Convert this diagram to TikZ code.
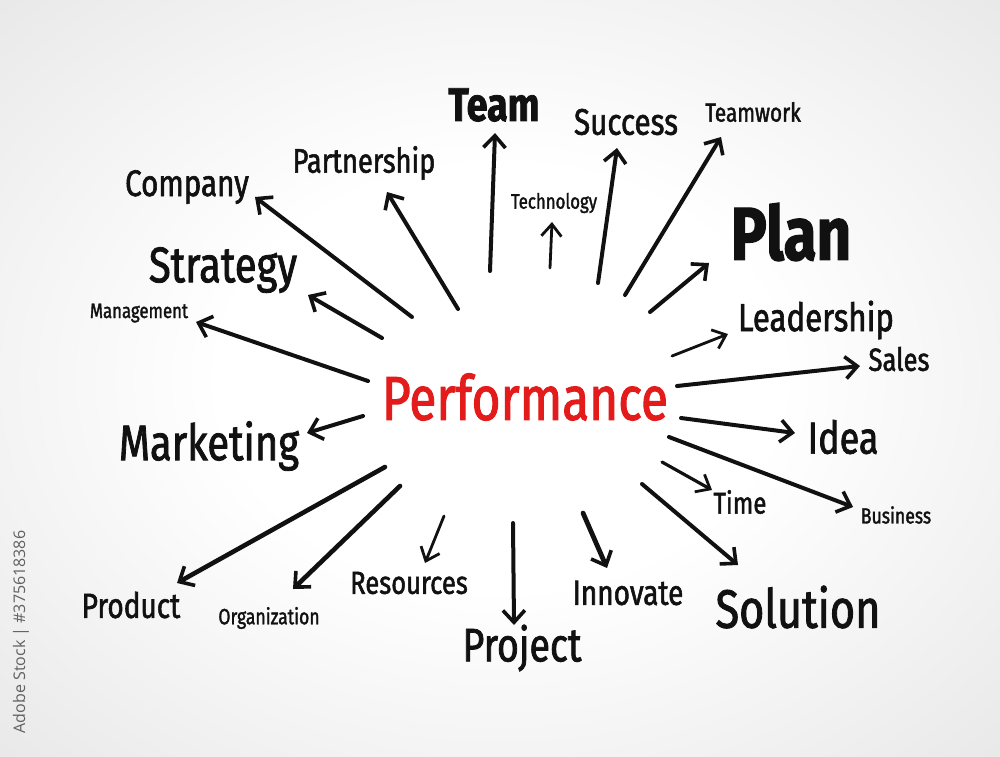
\documentclass[tikz,border=0pt]{standalone}
\usepackage{fontspec}
\setmainfont{Fira Sans}
\newfontfamily\hand[FakeStretch=0.8, FakeBold=1.6]{Fira Sans}
\newfontfamily\wmfont{Open Sans}
\usetikzlibrary{arrows.meta}
\newcommand\fs[1]{\fontsize{#1}{#1}\selectfont}
\definecolor{ink}{HTML}{111111}
\definecolor{perfred}{HTML}{E31B1B}
\pgfdeclareradialshading{bgshade}{\pgfpoint{0bp}{0bp}}{color(0bp)=(white); color(14bp)=(white); color(36bp)=(black!9); color(50bp)=(black!15)}
\begin{document}
\begin{tikzpicture}[x=1pt,y=-1pt,
  lab/.style={inner sep=0pt, text=ink, font=\hand},
  arr/.style={draw=ink, line width=4pt, line cap=round,
    -{Straight Barb[length=12pt,width=22pt,line width=3.6pt]}},
  sarr/.style={draw=ink, line width=2.8pt, line cap=round,
    -{Straight Barb[length=12pt,width=20pt,line width=2.8pt]}}]
\useasboundingbox (0,0) rectangle (1000,756);
\shade[shading=bgshade] (0,0) rectangle (1000,756);

% centre
\node[lab, text=perfred, font=\hand\fs{62}] (perf) at (525,397) {Performance};

% labels
\node[lab, font=\hand\bfseries\fs{47}] (team) at (494,105) {Team};
\node[lab, font=\hand\fs{37}] (success) at (626,122) {Success};
\node[lab, font=\hand\fs{26}] (teamwork) at (753,112) {Teamwork};
\node[lab, font=\hand\fs{21}] (technology) at (554,203) {Technology};
\node[lab, font=\hand\bfseries\fs{75}] (plan) at (791,232) {Plan};
\node[lab, font=\hand\fs{34}] (partnership) at (364,163) {Partnership};
\node[lab, font=\hand\fs{37}] (company) at (187,187) {Company};
\node[lab, font=\hand\fs{50}] (strategy) at (223,270) {Strategy};
\node[lab, font=\hand\fs{21}] (management) at (139,313) {Management};
\node[lab, font=\hand\fs{39}] (leadership) at (816,320) {Leadership};
\node[lab, font=\hand\fs{32}] (sales) at (899,359) {Sales};
\node[lab, font=\hand\fs{45}] (idea) at (843,437) {Idea};
\node[lab, font=\hand\fs{50}] (marketing) at (209,446) {Marketing};
\node[lab, font=\hand\fs{30}] (time) at (740,502) {Time};
\node[lab, font=\hand\fs{22}] (business) at (896,515) {Business};
\node[lab, font=\hand\fs{32}] (resources) at (409,583) {Resources};
\node[lab, font=\hand\fs{35}] (innovate) at (628,593) {Innovate};
\node[lab, font=\hand\fs{54}] (solution) at (798,607) {Solution};
\node[lab, font=\hand\fs{47}] (project) at (522,648) {Project};
\node[lab, font=\hand\fs{35}] (product) at (131,605) {Product};
\node[lab, font=\hand\fs{22}] (organization) at (269,618) {Organization};

% watermark caption
\node[inner sep=0pt, rotate=90, text=black!62, font=\wmfont\fs{16}] (wm) at (21,632) {Adobe Stock | \#375618386};

% connector end points
\coordinate (sCompany) at (412,317);      \coordinate (tCompany) at (255,197);
\coordinate (sPartner) at (458,309);      \coordinate (tPartner) at (387,192);
\coordinate (sTeam) at (490,271);         \coordinate (tTeam) at (495,133);
\coordinate (sTech) at (550,268);         \coordinate (tTech) at (552,222);
\coordinate (sSuccess) at (598,283);      \coordinate (tSuccess) at (617,148);
\coordinate (sTeamwork) at (625,295);     \coordinate (tTeamwork) at (721,137);
\coordinate (sPlan) at (650,312);         \coordinate (tPlan) at (709,263);
\coordinate (sLead) at (672,356);         \coordinate (tLead) at (728,334);
\coordinate (sSales) at (677,386);        \coordinate (tSales) at (860,366);
\coordinate (sIdea) at (681,418);         \coordinate (tIdea) at (795,433);
\coordinate (sBusiness) at (669,437);     \coordinate (tBusiness) at (853,507);
\coordinate (sTime) at (662,462);         \coordinate (tTime) at (712,490);
\coordinate (sSolution) at (642,484);     \coordinate (tSolution) at (738,565);
\coordinate (sInnovate) at (583,513);     \coordinate (tInnovate) at (607,568);
\coordinate (sProject) at (513,523);      \coordinate (tProject) at (514,625);
\coordinate (sRes) at (444,516);          \coordinate (tRes) at (425,563);
\coordinate (sOrg) at (400,486);          \coordinate (tOrg) at (293,589);
\coordinate (sProduct) at (385,467);      \coordinate (tProduct) at (177,583);
\coordinate (sMarketing) at (363,416);    \coordinate (tMarketing) at (307,433);
\coordinate (sMgmt) at (368,381);         \coordinate (tMgmt) at (196,322);
\coordinate (sStrategy) at (382,338);     \coordinate (tStrategy) at (308,295);

% connectors
\draw[arr] (sCompany) -- (tCompany);
\draw[arr] (sPartner) -- (tPartner);
\draw[arr] (sTeam) -- (tTeam);
\draw[sarr] (sTech) -- (tTech);
\draw[arr] (sSuccess) -- (tSuccess);
\draw[arr] (sTeamwork) -- (tTeamwork);
\draw[arr] (sPlan) -- (tPlan);
\draw[sarr] (sLead) -- (tLead);
\draw[arr] (sSales) -- (tSales);
\draw[arr] (sIdea) -- (tIdea);
\draw[arr] (sBusiness) -- (tBusiness);
\draw[sarr, line width=3.2pt] (sTime) -- (tTime);
\draw[arr] (sSolution) -- (tSolution);
\draw[arr, line width=4.8pt] (sInnovate) -- (tInnovate);
\draw[arr] (sProject) -- (tProject);
\draw[sarr] (sRes) -- (tRes);
\draw[arr, line width=4.6pt] (sOrg) -- (tOrg);
\draw[arr, line width=4.6pt] (sProduct) -- (tProduct);
\draw[arr] (sMarketing) -- (tMarketing);
\draw[arr] (sMgmt) -- (tMgmt);
\draw[arr] (sStrategy) -- (tStrategy);
\end{tikzpicture}
\end{document}
